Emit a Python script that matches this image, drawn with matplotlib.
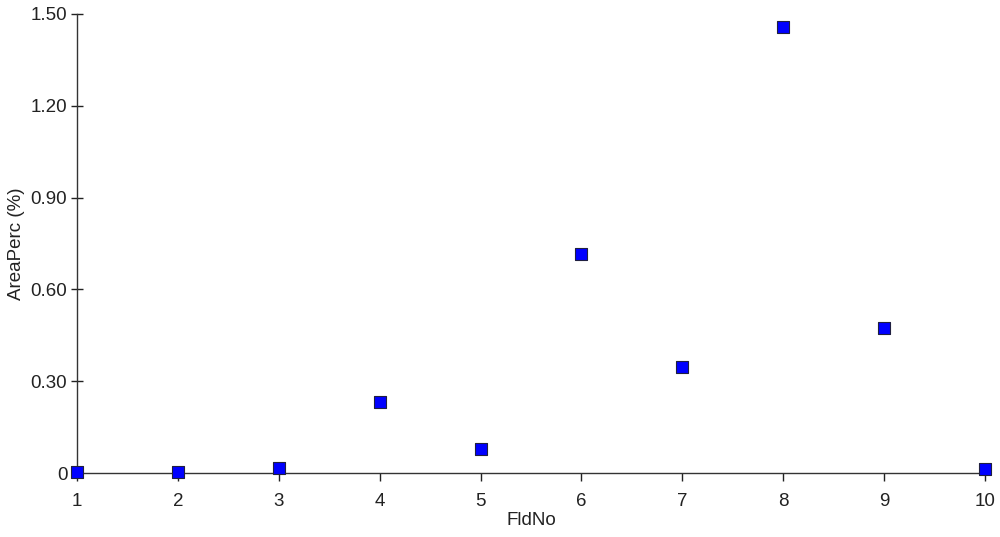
import numpy as np
import matplotlib.pyplot as plt
from matplotlib.ticker import FuncFormatter

plt.rcParams['font.family'] = ['Liberation Sans', 'DejaVu Sans']

fld_no = [1, 2, 3, 4, 5, 6, 7, 8, 9, 10]
area_perc = [0.005, 0.003, 0.017, 0.233, 0.080, 0.715, 0.345, 1.458, 0.475, 0.014]
y_ticks = [0, 0.30, 0.60, 0.90, 1.20, 1.50]

fig = plt.figure(figsize=(10, 5.37), dpi=100)
ax = fig.add_axes([0.077, 0.119, 0.908, 0.855])

ax.scatter(fld_no, area_perc, marker='s', s=75, color='#0000ff',
           edgecolors='#202040', linewidths=0.8, clip_on=False, zorder=3)

ax.set_xlim(1, 10)
ax.set_ylim(0, 1.5)
ax.set_xticks(fld_no)
ax.set_yticks(y_ticks)
ax.yaxis.set_major_formatter(FuncFormatter(lambda v, p: '0' if v == 0 else f'{v:.2f}'))

for s in ['top', 'right']:
    ax.spines[s].set_visible(False)
for s in ['left', 'bottom']:
    ax.spines[s].set_color('#333333')
    ax.spines[s].set_linewidth(1.0)

ax.tick_params(axis='y', direction='inout', length=8, width=1, labelsize=13.5, colors='#222222', pad=3)
ax.tick_params(axis='x', direction='out', length=6, width=1, labelsize=13.5, colors='#222222', pad=8)

ax.set_xlabel('FldNo', fontsize=13.5, color='#222222', labelpad=2)
ax.set_ylabel('AreaPerc (%)', fontsize=13.5, color='#222222', labelpad=4)

fig.savefig('out.png', dpi=100)
